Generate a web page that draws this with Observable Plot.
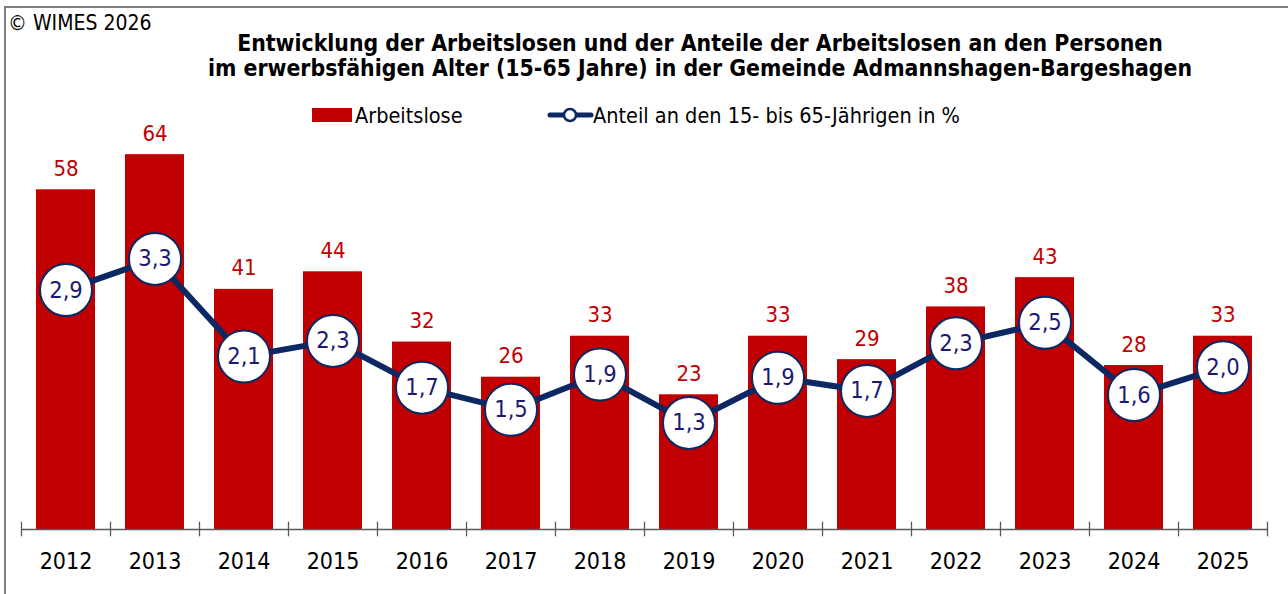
<!DOCTYPE html>
<html><head><meta charset="utf-8">
<script src="https://cdn.jsdelivr.net/npm/d3@7"></script>
<script src="https://cdn.jsdelivr.net/npm/@observablehq/plot@0.6"></script>
<style>
body{margin:0;background:#fff;}
#wrap{position:relative;width:1288px;height:594px;overflow:hidden;font-family:"DejaVu Sans Condensed","DejaVu Sans",sans-serif;color:#000;}
#frame{position:absolute;left:4px;top:6px;width:1300px;height:600px;border-top:2px solid #7f7f7f;border-left:2px solid #7f7f7f;box-sizing:border-box;}
#chart{position:absolute;left:0;top:0;}
.t{position:absolute;white-space:nowrap;}
#copy{left:8px;top:9px;font-size:21px;line-height:28px;}
.title{left:0;width:1400px;text-align:center;font-weight:bold;font-size:22.8px;line-height:28px;}
#leg{position:absolute;left:0;top:102px;height:26px;}
</style></head>
<body>
<div id="wrap">
  <div id="frame"></div>
  <div id="chart"></div>
  <div class="t" id="copy"></div>
  <div class="t title" id="t1" style="top:29px"></div>
  <div class="t title" id="t2" style="top:54px"></div>
  <div id="leg"></div>
</div>
<script>
const copyright = "© WIMES 2026";
const titleLines = [
  "Entwicklung der Arbeitslosen und der Anteile der Arbeitslosen an den Personen",
  "im erwerbsfähigen Alter (15-65 Jahre) in der Gemeinde Admannshagen-Bargeshagen"
];
const seriesNames = ["Arbeitslose", "Anteil an den 15- bis 65-Jährigen in %"];
const years = ["2012","2013","2014","2015","2016","2017","2018","2019","2020","2021","2022","2023","2024","2025"];
const unemployed = [58,64,41,44,32,26,33,23,33,29,38,43,28,33];
const share = [2.92,3.30,2.11,2.30,1.73,1.46,1.89,1.30,1.85,1.69,2.27,2.52,1.64,1.98];
const leftMax = 70, rightMax = 5;

const RED = "#c00000", NAVY = "#0c2862", LABEL = "#1a1a74", AXIS = "#595959";
const FONT = '"DejaVu Sans Condensed","DejaVu Sans",sans-serif';
const W = 1288, H = 594, mL = 21, mR = 21, mT = 119, mB = 65;
const ratio = leftMax / rightMax;
const step = (W - mL - mR) / years.length;
const fmt = v => v.toFixed(1).replace(".", ",");
const data = years.map((y, i) => ({year: y, count: unemployed[i], pct: share[i]}));

document.getElementById("copy").textContent = copyright;
document.getElementById("t1").textContent = titleLines[0];
document.getElementById("t2").textContent = titleLines[1];

const chart = Plot.plot({
  width: W, height: H,
  marginLeft: mL, marginRight: mR, marginTop: mT, marginBottom: mB,
  style: {fontFamily: FONT, background: "transparent", overflow: "visible"},
  x: {domain: years, paddingInner: 0.337, paddingOuter: 0.1685, label: null},
  y: {domain: [0, leftMax], axis: null},
  marks: [
    Plot.barY(data, {x: "year", y: "count", fill: RED}),
    Plot.text(data, {x: "year", y: "count", text: d => String(d.count), dy: -21, fill: RED, fontSize: 22}),
    Plot.ruleY([0], {stroke: AXIS, strokeWidth: 1.3}),
    Plot.ruleX(years, {x: d => d, y1: -1.25, y2: 1.25, dx: -step / 2, stroke: AXIS, strokeWidth: 1.3}),
    Plot.ruleX([years[years.length - 1]], {x: d => d, y1: -1.25, y2: 1.25, dx: step / 2, stroke: AXIS, strokeWidth: 1.3}),
    Plot.axisX({tickSize: 0, tickPadding: 23, fontSize: 23, fill: "#000", label: null}),
    Plot.line(data, {x: "year", y: d => d.pct * ratio, stroke: NAVY, strokeWidth: 6}),
    Plot.dot(data, {x: "year", y: d => d.pct * ratio, r: 26, fill: "white", stroke: NAVY, strokeWidth: 2}),
    Plot.text(data, {x: "year", y: d => d.pct * ratio, text: d => fmt(d.pct), fill: LABEL, fontSize: 23.5})
  ]
});
document.getElementById("chart").appendChild(chart);

// legend
const leg = d3.select("#leg");
const s = leg.append("svg").attr("width", W).attr("height", 26).style("position","absolute").style("left","0").style("top","0");
s.append("rect").attr("x", 312).attr("y", 6).attr("width", 40).attr("height", 14).attr("fill", RED);
s.append("text").attr("x", 355).attr("y", 13).attr("dy", "0.35em").attr("font-size", 21.5)
  .attr("font-family", FONT).text(seriesNames[0]);
s.append("line").attr("x1", 550).attr("x2", 591).attr("y1", 13).attr("y2", 13).attr("stroke", NAVY).attr("stroke-width", 5).attr("stroke-linecap", "round");
s.append("circle").attr("cx", 570).attr("cy", 13).attr("r", 6).attr("fill", "white").attr("stroke", NAVY).attr("stroke-width", 2.5);
s.append("text").attr("x", 593).attr("y", 13).attr("dy", "0.35em").attr("font-size", 21.5)
  .attr("font-family", FONT).text(seriesNames[1]);
</script>
</body></html>
